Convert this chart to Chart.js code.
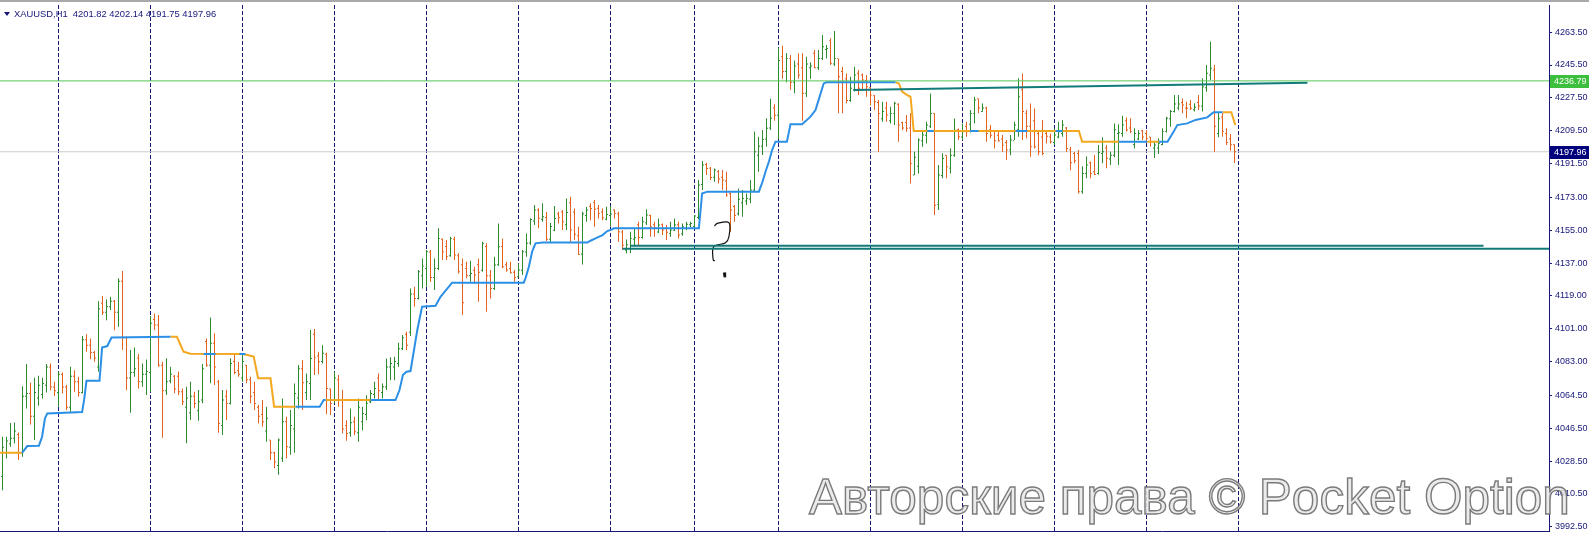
<!DOCTYPE html>
<html>
<head>
<meta charset="utf-8">
<title>XAUUSD,H1</title>
<script src="https://cdn.jsdelivr.net/npm/chart.js@4.4.1/dist/chart.umd.min.js"></script>
<style>
  html, body { margin: 0; padding: 0; background: #fff; }
  canvas { display: block; }
</style>
</head>
<body>
<canvas id="chart" width="1589" height="535"></canvas>
<script>
const symbol = 'XAUUSD,H1';
const watermark = 'Авторские права © Pocket Option';

// H1 bars, oldest first
const opens = [
  4020, 4033, 4038, 4041, 4043, 4033, 4064, 4065.5, 4053, 4063,
  4065, 4070, 4080, 4069, 4066, 4076, 4069, 4058, 4075, 4072,
  4066, 4095, 4092, 4088, 4080, 4115, 4110, 4113, 4116, 4110,
  4127, 4096, 4074, 4077, 4085, 4072, 4076, 4077, 4106, 4103,
  4081, 4067, 4072.5, 4075, 4075, 4066.5, 4058, 4055, 4064, 4056,
  4062, 4094, 4081, 4093, 4072, 4048, 4064, 4060, 4083, 4078,
  4074, 4081, 4073, 4066, 4058, 4054, 4045, 4040, 4033, 4026,
  4030, 4050, 4036, 4046, 4063, 4079, 4066, 4071, 4098, 4086,
  4083, 4087, 4068, 4062, 4073, 4062, 4048, 4044, 4050, 4044,
  4050, 4054, 4061, 4065, 4074, 4066, 4069, 4080, 4080, 4082,
  4090, 4098, 4099, 4120, 4117.6, 4130, 4134, 4143, 4129, 4134,
  4150, 4146, 4141, 4150, 4141, 4136, 4134, 4130, 4133, 4136,
  4133, 4146, 4130, 4123, 4136, 4146, 4136, 4134, 4132, 4129.5,
  4133, 4143, 4148, 4160, 4166, 4161, 4162, 4150, 4155, 4164,
  4165, 4158, 4170, 4165, 4152, 4142, 4163, 4168, 4170, 4167,
  4165, 4161, 4163, 4166, 4164, 4154, 4144, 4145, 4150, 4158,
  4151, 4159, 4163, 4158, 4154, 4158, 4156, 4153, 4155, 4158,
  4153, 4156, 4158, 4157, 4162, 4180, 4191, 4189, 4184, 4187,
  4184, 4182, 4175, 4168, 4164, 4170, 4171, 4172, 4177, 4196,
  4201, 4205, 4211, 4222, 4218, 4250, 4242, 4249, 4236, 4246,
  4244, 4230, 4244, 4252, 4244, 4249, 4254, 4259, 4246, 4249,
  4242, 4238, 4226, 4232, 4241, 4240, 4237, 4233, 4229, 4225,
  4216, 4222, 4215, 4219, 4224, 4214, 4214, 4211, 4185.2, 4190,
  4204, 4207, 4212, 4219, 4169, 4185, 4196, 4189, 4196, 4210,
  4206, 4212, 4213, 4219, 4227, 4220, 4222, 4210, 4209, 4207,
  4205, 4203, 4199, 4204, 4210, 4232, 4219, 4212, 4215, 4208,
  4206, 4208, 4206, 4203, 4206, 4208, 4211, 4199, 4197, 4197,
  4176, 4186, 4192, 4187, 4186, 4197, 4200, 4194, 4196, 4208,
  4208, 4215, 4211, 4202, 4205, 4209.5, 4208, 4206, 4200, 4200,
  4202, 4209, 4216, 4220, 4222, 4225, 4222, 4224, 4221, 4225,
  4223, 4233, 4240, 4242.8, 4208, 4217, 4208, 4205, 4201.82
];
const highs = [
  4041.8, 4041.8, 4049.4, 4049.6, 4044.1, 4069.5, 4081.6, 4071.5, 4074.1, 4075.2,
  4074.1, 4081.6, 4082.0, 4071.9, 4077.4, 4077.0, 4070.1, 4080.1, 4078.3, 4074.7,
  4097.0, 4098.0, 4095.7, 4088.9, 4116.1, 4118.9, 4117.0, 4118.5, 4116.7, 4128.6,
  4132.6, 4096.6, 4089.3, 4090.7, 4087.1, 4082.0, 4084.2, 4108.0, 4109.4, 4108.5,
  4082.9, 4084.8, 4080.2, 4075.6, 4077.5, 4068.3, 4069.2, 4072.0, 4066.5, 4067.4,
  4081.6, 4095.7, 4107.1, 4098.5, 4072.9, 4067.4, 4067.4, 4084.8, 4087.0, 4082.9,
  4087.0, 4081.1, 4074.7, 4072.0, 4059.2, 4061.9, 4058.3, 4040.0, 4033.6, 4040.9,
  4062.8, 4052.8, 4056.4, 4071.0, 4081.1, 4083.8, 4076.5, 4100.3, 4100.8, 4088.4,
  4092.0, 4087.8, 4068.3, 4077.4, 4075.6, 4067.4, 4050.9, 4057.3, 4052.8, 4062.8,
  4058.2, 4064.6, 4067.4, 4071.9, 4076.5, 4071.0, 4084.7, 4085.3, 4085.6, 4093.3,
  4097.5, 4099.3, 4123.1, 4124.0, 4133.2, 4139.5, 4144.1, 4144.1, 4139.5, 4156.0,
  4150.5, 4149.6, 4151.4, 4151.4, 4142.3, 4139.5, 4137.7, 4138.3, 4135.0, 4139.5,
  4148.7, 4147.8, 4133.2, 4140.5, 4158.7, 4150.5, 4137.7, 4137.7, 4133.2, 4136.8,
  4144.1, 4153.2, 4161.5, 4168.8, 4167.0, 4169.7, 4165.0, 4159.0, 4168.2, 4165.1,
  4166.0, 4172.4, 4173.3, 4166.9, 4156.9, 4165.1, 4167.8, 4169.7, 4171.5, 4168.8,
  4166.9, 4167.8, 4168.2, 4166.5, 4165.1, 4155.1, 4149.9, 4154.1, 4156.0, 4159.6,
  4162.4, 4166.4, 4163.5, 4159.6, 4161.4, 4158.7, 4157.8, 4159.6, 4161.4, 4159.6,
  4158.7, 4159.6, 4159.6, 4163.3, 4182.5, 4192.9, 4192.0, 4189.8, 4188.8, 4188.0,
  4188.0, 4187.0, 4175.5, 4168.8, 4177.9, 4177.0, 4175.1, 4182.5, 4209.0, 4206.2,
  4209.9, 4216.3, 4227.0, 4224.0, 4255.0, 4256.0, 4252.0, 4251.0, 4248.0, 4252.0,
  4252.0, 4250.0, 4247.0, 4253.7, 4253.7, 4261.9, 4256.4, 4260.1, 4264.1, 4249.1,
  4244.6, 4240.9, 4239.1, 4244.6, 4242.7, 4240.9, 4240.0, 4233.5, 4229.0, 4226.3,
  4225.4, 4225.4, 4222.6, 4225.4, 4224.5, 4214.4, 4218.1, 4219.0, 4198.0, 4205.3,
  4208.9, 4214.4, 4229.9, 4219.0, 4190.7, 4197.1, 4196.1, 4199.8, 4216.2, 4210.7,
  4213.5, 4214.4, 4220.8, 4228.1, 4227.2, 4224.4, 4222.6, 4212.6, 4209.8, 4209.8,
  4207.1, 4204.4, 4207.1, 4214.4, 4238.2, 4240.9, 4220.8, 4224.4, 4221.7, 4209.8,
  4215.3, 4208.9, 4208.0, 4210.7, 4214.4, 4215.3, 4211.5, 4200.7, 4197.9, 4198.9,
  4190.0, 4195.3, 4192.6, 4196.2, 4201.7, 4205.9, 4201.7, 4198.0, 4213.5, 4213.0,
  4217.7, 4216.8, 4216.3, 4210.8, 4209.9, 4209.9, 4209.9, 4206.2, 4203.5, 4205.3,
  4210.8, 4217.2, 4220.9, 4229.1, 4229.1, 4227.2, 4225.4, 4226.3, 4224.5, 4229.1,
  4238.2, 4245.5, 4258.3, 4245.5, 4219.2, 4219.0, 4210.8, 4207.7, 4202.14
];
const lows = [
  4012.5, 4029.9, 4036.3, 4038.1, 4029.0, 4030.8, 4057.3, 4048.5, 4040.0, 4058.8,
  4062.8, 4066.1, 4067.3, 4064.2, 4058.2, 4065.5, 4056.4, 4055.5, 4066.4, 4063.7,
  4065.5, 4088.4, 4084.3, 4082.9, 4077.4, 4108.5, 4105.7, 4111.2, 4100.2, 4102.1,
  4089.3, 4067.3, 4054.9, 4074.7, 4068.3, 4069.2, 4064.7, 4066.5, 4100.3, 4080.2,
  4041.3, 4064.7, 4071.1, 4065.6, 4064.7, 4059.2, 4038.2, 4051.0, 4057.4, 4050.6,
  4060.1, 4080.2, 4071.1, 4070.1, 4044.0, 4042.7, 4051.0, 4059.5, 4076.0, 4074.7,
  4072.0, 4071.1, 4060.1, 4056.4, 4049.1, 4047.3, 4039.1, 4029.0, 4024.5, 4021.0,
  4028.0, 4030.0, 4032.0, 4033.0, 4057.3, 4056.4, 4061.9, 4061.9, 4075.6, 4076.1,
  4082.0, 4054.2, 4053.7, 4060.1, 4058.2, 4043.6, 4039.6, 4041.8, 4042.7, 4039.1,
  4045.4, 4050.9, 4060.1, 4062.8, 4061.9, 4062.8, 4067.4, 4072.8, 4072.8, 4080.2,
  4089.3, 4089.3, 4097.0, 4113.1, 4117.0, 4123.1, 4124.0, 4126.8, 4122.2, 4133.2,
  4138.6, 4138.6, 4140.5, 4138.6, 4131.3, 4108.5, 4128.6, 4126.8, 4125.8, 4115.8,
  4132.2, 4110.3, 4117.6, 4122.2, 4135.5, 4134.1, 4132.2, 4131.3, 4126.8, 4129.0,
  4130.4, 4140.5, 4146.9, 4157.8, 4156.0, 4159.6, 4149.0, 4148.0, 4154.5, 4158.7,
  4155.1, 4155.1, 4148.7, 4149.6, 4141.4, 4136.2, 4159.6, 4160.5, 4156.9, 4161.4,
  4160.5, 4160.5, 4156.9, 4161.4, 4148.7, 4144.1, 4142.3, 4142.3, 4146.0, 4146.8,
  4150.5, 4157.8, 4151.4, 4151.4, 4153.5, 4152.3, 4149.6, 4151.4, 4154.5, 4150.5,
  4152.0, 4155.0, 4156.5, 4156.0, 4161.0, 4177.0, 4185.2, 4182.5, 4181.5, 4180.6,
  4177.0, 4173.3, 4154.1, 4159.6, 4163.0, 4162.4, 4168.8, 4169.7, 4176.0, 4187.0,
  4196.2, 4200.7, 4209.9, 4215.0, 4205.0, 4238.0, 4236.0, 4232.0, 4230.0, 4238.0,
  4215.0, 4228.0, 4238.0, 4243.7, 4242.7, 4248.2, 4249.1, 4245.5, 4245.0, 4219.0,
  4219.0, 4224.5, 4225.4, 4231.0, 4229.0, 4231.8, 4228.1, 4223.5, 4220.8, 4198.0,
  4214.4, 4214.4, 4213.5, 4212.6, 4203.5, 4209.9, 4208.9, 4180.6, 4185.2, 4186.1,
  4200.7, 4202.5, 4211.0, 4163.3, 4166.0, 4183.4, 4183.4, 4186.0, 4195.2, 4204.4,
  4204.4, 4206.2, 4208.5, 4213.5, 4219.0, 4219.9, 4203.4, 4205.3, 4199.8, 4203.4,
  4197.9, 4193.4, 4196.1, 4204.4, 4206.2, 4204.4, 4205.3, 4195.2, 4199.8, 4196.1,
  4196.1, 4202.5, 4202.5, 4201.6, 4205.3, 4206.2, 4197.9, 4187.9, 4191.6, 4175.1,
  4175.0, 4183.5, 4183.4, 4185.2, 4185.5, 4191.6, 4188.9, 4190.7, 4195.0, 4190.7,
  4206.2, 4209.0, 4208.1, 4199.8, 4204.4, 4204.4, 4202.6, 4200.8, 4194.6, 4196.7,
  4201.5, 4208.5, 4211.7, 4219.5, 4220.9, 4219.0, 4216.3, 4220.9, 4220.0, 4220.9,
  4220.0, 4230.9, 4237.3, 4198.0, 4205.9, 4206.2, 4201.6, 4198.5, 4191.75
];
const closes = [
  4036, 4039.5, 4041, 4045, 4033, 4064, 4065.5, 4053, 4066, 4070,
  4071, 4080, 4069, 4067, 4076, 4069, 4058, 4075, 4072, 4066,
  4095, 4092, 4088, 4085, 4112, 4110, 4113, 4116, 4110, 4127,
  4096, 4074, 4077, 4079, 4072, 4076, 4077.5, 4104, 4103, 4081,
  4067, 4072, 4076, 4068, 4066.5, 4061, 4063, 4064, 4060, 4061,
  4079, 4081, 4093, 4080, 4049, 4062, 4060, 4082, 4077, 4076,
  4083, 4073, 4064, 4060, 4053, 4050, 4052, 4033, 4028, 4040,
  4050, 4036.3, 4048, 4065.5, 4079, 4071.4, 4072, 4084.7, 4085.3, 4082.9,
  4087.5, 4068.3, 4060, 4074, 4062, 4046, 4043.6, 4049.5, 4044.5, 4058,
  4054.6, 4060.1, 4065.5, 4068.3, 4067, 4069.2, 4080, 4082, 4083, 4090,
  4096, 4092, 4120, 4117.6, 4132.2, 4135.3, 4143.2, 4129.1, 4134.1, 4150.5,
  4143.2, 4140.5, 4150.5, 4141.4, 4132.2, 4115.2, 4130, 4131.3, 4130.4, 4132,
  4147.8, 4130, 4123.1, 4135.9, 4145.9, 4135, 4133.2, 4131.7, 4129.1, 4133.2,
  4143.2, 4147.8, 4160.9, 4166, 4161.5, 4162.4, 4150, 4157, 4161.4, 4161.8,
  4159.6, 4164.7, 4155.1, 4152.7, 4141.7, 4164, 4166, 4166.9, 4166.4, 4164.2,
  4161.8, 4163.6, 4163.8, 4164.2, 4154.1, 4146.8, 4147, 4150.5, 4150.9, 4151,
  4159.6, 4163.3, 4156.9, 4156.3, 4157.8, 4155.1, 4153.8, 4155.1, 4157.8, 4152.3,
  4156.9, 4158.2, 4158.7, 4162.7, 4179.7, 4190.7, 4188.8, 4183.9, 4188, 4183,
  4182.5, 4174.2, 4166, 4163, 4172, 4172.4, 4172.4, 4177, 4198, 4201,
  4204.7, 4210.8, 4216.3, 4218, 4248, 4242, 4249, 4236, 4245, 4240,
  4230, 4246, 4245, 4244, 4249.1, 4255.5, 4254.6, 4246.4, 4249, 4239.1,
  4236, 4226, 4232.7, 4240, 4232.7, 4237.3, 4233.6, 4229, 4225.4, 4219,
  4220, 4218.1, 4219, 4224.5, 4212.6, 4211, 4210.8, 4191.6, 4195, 4204.4,
  4207.1, 4212.6, 4219, 4168.7, 4185.2, 4194.3, 4189.8, 4196, 4209.8, 4206.2,
  4208.9, 4208.9, 4219, 4226.3, 4222, 4222, 4208, 4207, 4204, 4204,
  4201.6, 4199, 4204.4, 4212.6, 4228.1, 4220, 4212, 4200.7, 4200.7, 4198,
  4197, 4206.5, 4203.4, 4207.1, 4208.9, 4212.6, 4199.8, 4192, 4193, 4176,
  4186, 4190.7, 4186, 4185.5, 4197.5, 4198, 4194.4, 4196, 4210, 4208.4,
  4212.6, 4209.9, 4209, 4208, 4208, 4206, 4205.3, 4203.5, 4201.7, 4202.6,
  4209, 4216.3, 4220, 4224.1, 4224.1, 4223.6, 4221.8, 4221.8, 4222.3, 4223.1,
  4233.6, 4241, 4243.7, 4212, 4216, 4209, 4203, 4201.8, 4197.96
];

// bar index where each trading day starts
const daySeparators = [14, 37, 60, 83, 106, 129, 152, 173, 194, 217, 240, 263, 286, 309];

const tickLabels = ['4263.50', '4245.50', '4227.50', '4209.50', '4191.50', '4173.00', '4155.00', '4137.00',
  '4119.00', '4101.00', '4083.00', '4064.50', '4046.50', '4028.50', '4010.50', '3992.50'];

// trend indicator, [bar index, price]
const blueSegments = [
  [[4.9, 4033.0], [6.2, 4036.7], [9.1, 4036.9], [9.9, 4041.8], [10.6, 4051.8], [11.2, 4054.6], [19.9, 4055.3],
   [20.4, 4062.0], [21.0, 4072.5], [24.25, 4072.5], [24.6, 4082.0], [24.9, 4090.7], [26.2, 4091.5], [27.25, 4096.2], [42.0, 4096.6]],
  [[50.3, 4087.1], [53.25, 4087.1]],
  [[59.25, 4087.1], [60.75, 4087.1]],
  [[73.25, 4058.2], [79.3, 4058.2], [80.3, 4061.9], [80.8, 4061.9]],
  [[92.0, 4061.9], [98.25, 4061.9], [99.25, 4067.4], [100.1, 4075.6], [101.0, 4077.4], [102.0, 4077.8], [103.7, 4100.3],
   [104.9, 4113.1], [108.25, 4113.6], [109.5, 4118.5], [112.4, 4126.2], [130.3, 4126.2], [130.75, 4128.6], [131.6, 4135.0],
   [132.4, 4143.2], [133.25, 4147.8], [135.0, 4148.2], [146.2, 4148.2], [147.0, 4149.2], [148.25, 4150.5], [150.0, 4152.3],
   [151.2, 4154.5], [152.4, 4155.4], [152.8, 4156.0], [174.1, 4156.0], [174.9, 4175.1], [176.2, 4176.1], [189.1, 4176.1],
   [190.0, 4181.5], [190.75, 4187.0], [191.6, 4192.5], [192.4, 4198.9], [193.25, 4203.5], [196.1, 4203.5], [197.0, 4213.1],
   [199.9, 4213.1], [202.0, 4217.2], [203.25, 4220.8], [205.3, 4235.4], [206.0, 4236.0], [223.25, 4236.0]],
  [[231.2, 4209.3], [232.8, 4209.3]],
  [[241.9, 4209.3], [244.0, 4209.3]],
  [[253.25, 4209.3], [256.2, 4209.3]],
  [[263.25, 4209.3], [265.0, 4209.3]],
  [[279.1, 4203.4], [286.2, 4203.4]],
  [[289.1, 4203.4], [291.25, 4203.4], [292.8, 4209.0], [293.7, 4212.6], [296.2, 4213.5], [298.25, 4215.4],
   [301.2, 4216.8], [302.4, 4219.0], [302.8, 4219.6], [305.0, 4219.6]]
];
const orangeSegments = [
  [[-0.6, 4033.0], [4.9, 4033.0]],
  [[42.0, 4096.6], [43.6, 4096.6], [45.25, 4088.4], [47.0, 4087.3], [60.1, 4087.1], [61.2, 4086.6], [62.8, 4085.7],
   [63.9, 4073.8], [67.0, 4073.8], [67.9, 4058.3], [73.25, 4058.2]],
  [[80.8, 4061.9], [92.0, 4061.9]],
  [[223.25, 4236.0], [224.1, 4235.4], [224.9, 4230.9], [226.2, 4229.0], [227.0, 4228.1], [227.4, 4219.0],
   [227.8, 4209.3], [269.1, 4209.3], [269.9, 4203.4], [279.1, 4203.4]],
  [[286.2, 4203.4], [289.1, 4203.4]],
  [[305.0, 4219.6], [307.2, 4219.6], [308.2, 4212.6]]
];

// drawn objects
const levelPrice = 4236.79;
const bidPrice = closes[closes.length - 1];
const trendLine = [[212.75, 4231.8], [326.25, 4235.8]];
const supportLines = [
  { from: 157, to: 370.25, price: 4146.5 },
  { from: 155, to: null, price: 4144.8 }
];
const sketch = [[178, 4157.3], [178.7, 4158.7], [181.6, 4159.1], [181.6, 4151.4], [180.75, 4148.1],
  [178.4, 4146.7], [177.6, 4145.0], [177.7, 4138.6], [178.1, 4138.2]];
const sketchMark = [[180.4, 4131.8], [180.6, 4129.2]];

const X_MIN = -0.625, X_MAX = 386.625;
const Y_MIN = 3990.16, Y_MAX = 4278.38;

const upColor = '#2d8c2d';
const downColor = '#e3621d';
const navy = '#16167a';

const idx = opens.map((_, i) => i);
const barColors = idx.map(i => closes[i] >= opens[i] ? upColor : downColor);

function segmentsToPoints(segments) {
  const pts = [];
  segments.forEach((seg, k) => {
    if (k > 0) pts.push({ x: seg[0][0], y: null });
    seg.forEach(([x, y]) => pts.push({ x, y }));
  });
  return pts;
}

function tickBars(values, shift) {
  return idx.map(i => ({ x: i + shift, y: [values[i] - 0.27, values[i] + 0.27] }));
}

function lineSet(data, color, width, order, extra) {
  return Object.assign({
    type: 'line', data, borderColor: color, borderWidth: width, pointRadius: 0,
    fill: false, tension: 0, spanGaps: false, order
  }, extra || {});
}

const barSet = (data, order) => ({
  type: 'bar', data, backgroundColor: barColors, borderWidth: 0,
  barThickness: 1, grouped: false, inflateAmount: 0, order
});

const overlay = {
  id: 'overlay',
  afterDraw(chart) {
    const { ctx, chartArea, scales } = chart;
    ctx.save();

    // window edge
    ctx.fillStyle = '#a9a9a9';
    ctx.fillRect(0, 0, chart.width, 2);

    // price boxes on the axis
    const markers = [
      { value: levelPrice, bg: '#3cbf3c' },
      { value: bidPrice, bg: '#00007c' }
    ];
    ctx.font = '9px "Liberation Sans"';
    ctx.textBaseline = 'middle';
    markers.forEach(m => {
      const py = Math.round(scales.y.getPixelForValue(m.value));
      ctx.fillStyle = m.bg;
      ctx.fillRect(chartArea.right + 1, py - 6, 40, 13);
      ctx.fillStyle = '#ffffff';
      ctx.fillText(m.value.toFixed(2), chartArea.right + 5, py + 1);
    });

    // header
    const last = opens.length - 1;
    const head = symbol + '  ' + [opens[last], highs[last], lows[last], closes[last]].map(v => v.toFixed(2)).join(' ');
    ctx.fillStyle = navy;
    ctx.beginPath();
    ctx.moveTo(4, 12); ctx.lineTo(10, 12); ctx.lineTo(7, 16); ctx.closePath();
    ctx.fill();
    ctx.font = '9.4px "Liberation Sans"';
    ctx.fillText(head, 14, 14.5);

    // watermark
    ctx.font = '49.5px "Liberation Sans"';
    ctx.textBaseline = 'alphabetic';
    ctx.lineWidth = 1.4;
    ctx.fillStyle = 'rgba(232,232,232,0.85)';
    ctx.strokeStyle = 'rgba(110,110,110,0.9)';
    ctx.fillText(watermark, 809, 514);
    ctx.strokeText(watermark, 809, 514);

    ctx.restore();
  }
};

const datasets = [
  lineSet([{ x: X_MIN, y: levelPrice }, { x: X_MAX, y: levelPrice }], '#55c655', 1, 0),
  ...supportLines.map(s => lineSet([{ x: s.from, y: s.price }, { x: s.to === null ? X_MAX : s.to, y: s.price }], '#117b79', 2, 1)),
  lineSet(trendLine.map(([x, y]) => ({ x, y })), '#117b79', 2, 1),
  lineSet(sketch.map(([x, y]) => ({ x, y })), '#111111', 1.2, 1, { tension: 0.35 }),
  lineSet(sketchMark.map(([x, y]) => ({ x, y })), '#111111', 2.5, 1),
  lineSet(segmentsToPoints(blueSegments), '#2b8fe6', 2, 2),
  lineSet(segmentsToPoints(orangeSegments), '#f3a81f', 2, 3),
  barSet(tickBars(opens, -0.25), 4),
  barSet(tickBars(closes, 0.25), 4),
  barSet(idx.map(i => ({ x: i, y: [lows[i], highs[i]] })), 5),
  lineSet([{ x: X_MIN, y: bidPrice }, { x: X_MAX, y: bidPrice }], '#cccccc', 1, 6)
];

new Chart(document.getElementById('chart').getContext('2d'), {
  type: 'bar',
  data: { datasets },
  options: {
    responsive: false,
    animation: false,
    devicePixelRatio: 1,
    events: [],
    layout: { padding: { top: 5, bottom: 4, left: 0, right: 0 } },
    plugins: { legend: { display: false }, tooltip: { enabled: false }, title: { display: false } },
    scales: {
      x: {
        type: 'linear', min: X_MIN, max: X_MAX, offset: false,
        afterBuildTicks: s => { s.ticks = daySeparators.map(v => ({ value: v })); },
        afterFit: s => { s.height = 0; s.paddingLeft = 0; s.paddingRight = 0; },
        ticks: { display: false },
        grid: { display: true, offset: false, drawOnChartArea: true, drawTicks: false, color: navy, lineWidth: 1 },
        border: { display: true, color: navy, width: 1, dash: [4, 2] }
      },
      y: {
        type: 'linear', position: 'right', min: Y_MIN, max: Y_MAX,
        afterBuildTicks: s => { s.ticks = tickLabels.map(t => ({ value: parseFloat(t) })); },
        afterFit: s => { s.width = 40; s.paddingTop = 0; s.paddingBottom = 0; },
        ticks: {
          autoSkip: false, padding: 3, color: navy,
          font: { family: 'Liberation Sans', size: 9 },
          callback: v => v.toFixed(2)
        },
        grid: { drawOnChartArea: false, drawTicks: true, tickLength: 3, color: navy, offset: false },
        border: { display: true, color: navy, width: 1 }
      }
    }
  },
  plugins: [overlay]
});
</script>
</body>
</html>
